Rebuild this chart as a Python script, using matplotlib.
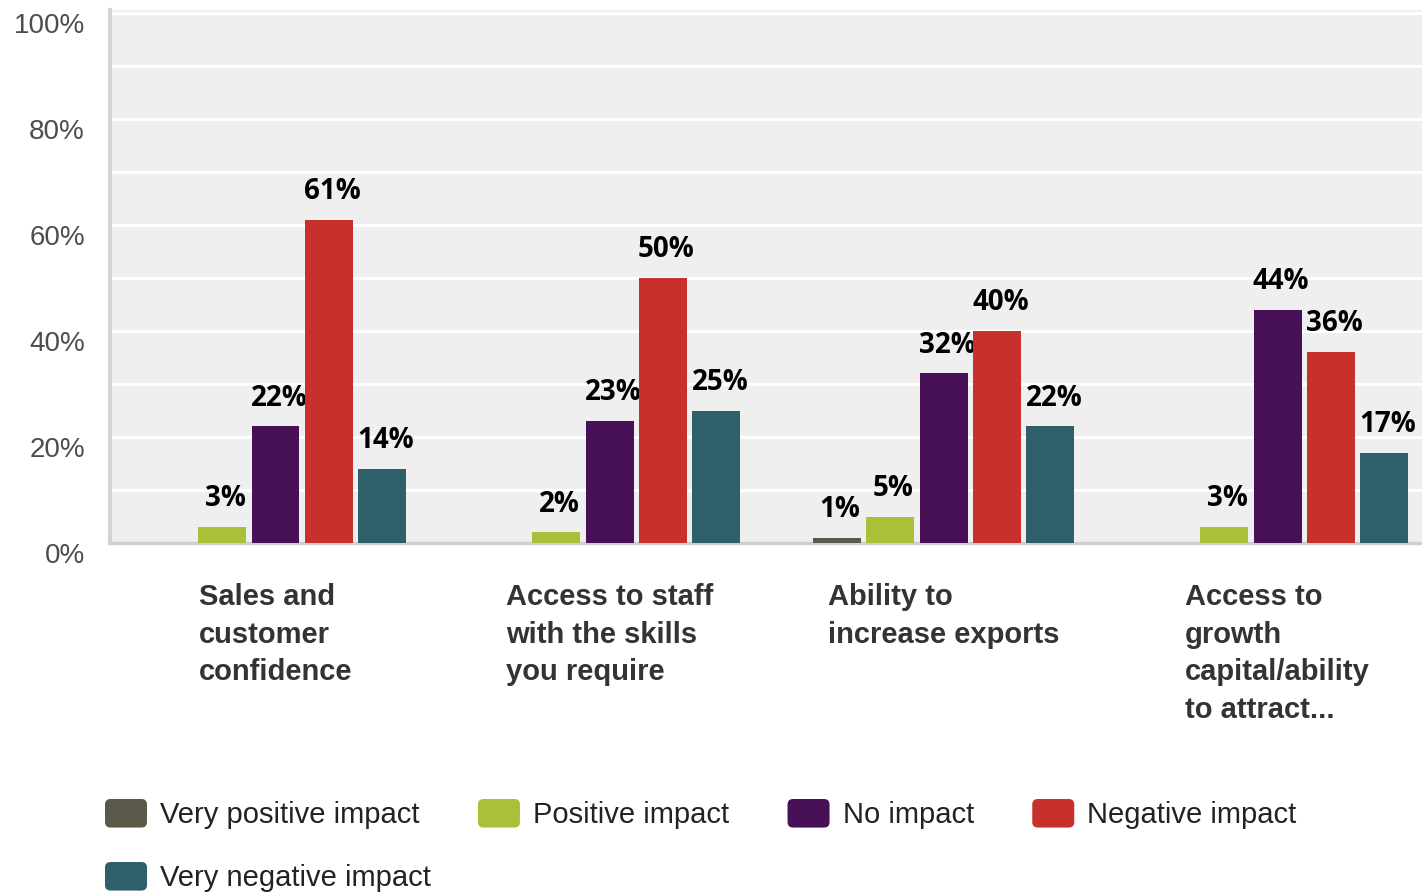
import numpy as np
import matplotlib.pyplot as plt
from matplotlib.legend_handler import HandlerPatch
from matplotlib.patches import FancyBboxPatch, Patch
import matplotlib.transforms as mtransforms


categories = [
    "Sales and\ncustomer\nconfidence",
    "Access to staff\nwith the skills\nyou require",
    "Ability to\nincrease exports",
    "Access to\ngrowth\ncapital/ability\nto attract...",
]
series_names = ["Very positive impact", "Positive impact", "No impact",
                "Negative impact", "Very negative impact"]
very_positive = [0, 0, 1, 0]
positive = [3, 2, 5, 3]
no_impact = [22, 23, 32, 44]
negative = [61, 50, 40, 36]
very_negative = [14, 25, 22, 17]
y_ticks = [0, 20, 40, 60, 80, 100]

colors = ["#5b5a4a", "#abbf39", "#471057", "#c6322b", "#2e5f6b"]


class RoundHandler(HandlerPatch):
    def create_artists(self, legend, orig_handle, xdescent, ydescent,
                       width, height, fontsize, trans):
        p = FancyBboxPatch((-xdescent + 2, -ydescent + 2), width - 4, height - 4,
                           boxstyle="round,pad=2,rounding_size=4",
                           facecolor=orig_handle.get_facecolor(),
                           edgecolor="none", transform=trans)
        return [p]


def main():
    W, H = 1422, 894
    fig = plt.figure(figsize=(W / 100, H / 100), dpi=100)
    left, right, top, bottom = 110, 1422, 10, 543
    ax = fig.add_axes([left / W, 1 - bottom / H, (right - left) / W, (bottom - top) / H])

    data = [very_positive, positive, no_impact, negative, very_negative]
    x = np.arange(len(categories))
    step = 0.16
    width = 0.1437

    ax.set_facecolor("#efefef")
    ax.set_xlim(-0.4955, 3.4326)
    ax.set_ylim(0, 100.6)

    for i, vals in enumerate(data):
        pos = x + (i - 2) * step
        bars = ax.bar(pos, vals, width, color=colors[i], zorder=3)
        for b, v in zip(bars, vals):
            if v == 0:
                continue
            ax.annotate(f"{v}%", (b.get_x() + b.get_width() / 2, v),
                        xytext=(2.5, 10), textcoords="offset points",
                        ha="center", va="bottom", fontsize=20,
                        fontweight="bold", family="Open Sans", color="black")

    ax.set_yticks(y_ticks)
    ax.set_yticklabels([f"{t}%" for t in y_ticks])
    ax.set_yticks(np.arange(0, 101, 10), minor=True)
    ax.grid(True, which="both", axis="y", color="white", linewidth=2.2, zorder=0)
    ax.set_axisbelow(True)
    ax.tick_params(axis="y", which="both", length=0, pad=18,
                   labelsize=20, labelcolor="#4d4d4d")
    for lab in ax.get_yticklabels():
        lab.set_family("Liberation Sans")
        lab.set_transform(lab.get_transform() +
                          mtransforms.ScaledTranslation(0, -10 / 100, fig.dpi_scale_trans))
    ax.set_xticks([])

    for s in ["top", "right"]:
        ax.spines[s].set_visible(False)
    ax.spines["left"].set_color("#d4d4d4")
    ax.spines["left"].set_linewidth(3)
    ax.spines["bottom"].set_color("#cfcfcf")
    ax.spines["bottom"].set_linewidth(2.5)

    for i, cat in enumerate(categories):
        ax.annotate(cat, (x[i], 0), xycoords=("data", "axes fraction"),
                    xytext=(0, -29), textcoords="offset points",
                    ha="center", va="top", multialignment="left",
                    fontsize=21, fontweight="bold", family="Liberation Sans",
                    color="#333333", linespacing=1.43)

    handles = [Patch(facecolor=c) for c in colors]
    common = dict(frameon=False, handlelength=1.44,
                  handleheight=1.13, handletextpad=0.45, columnspacing=2.0,
                  borderpad=0, borderaxespad=0, loc="upper left",
                  handler_map={Patch: RoundHandler()},
                  prop={"family": "Liberation Sans", "size": 21})
    leg1 = fig.legend(handles[:4], series_names[:4], ncol=4,
                      bbox_to_anchor=(105 / W, 1 - 799 / H), **common)
    leg2 = fig.legend(handles[4:], series_names[4:], ncol=1,
                      bbox_to_anchor=(105 / W, 1 - 862 / H), **common)
    for leg in (leg1, leg2):
        for t in leg.get_texts():
            t.set_color("#222222")

    fig.savefig("out.png", dpi=100)


if __name__ == "__main__":
    main()
